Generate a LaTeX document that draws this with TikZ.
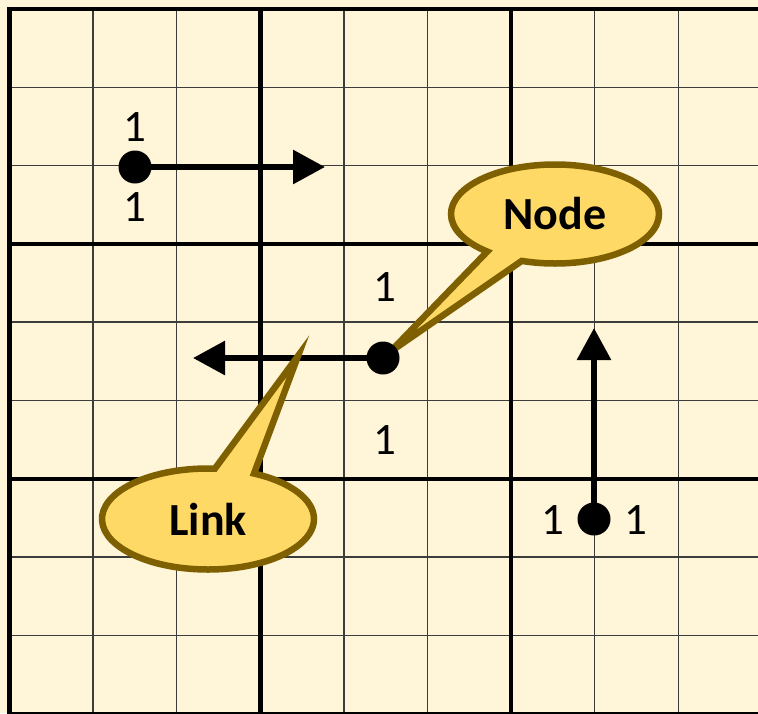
\documentclass[tikz,border=0pt]{standalone}
\usepackage{fontspec}
\setmainfont{Carlito}
\usetikzlibrary{arrows.meta,shapes.callouts}

\definecolor{paper}{RGB}{255,245,216}
\definecolor{calloutfill}{RGB}{255,217,102}
\definecolor{calloutedge}{RGB}{127,96,0}
\definecolor{minorgrid}{RGB}{60,60,60}

\pgfdeclarelayer{front}
\pgfsetlayers{main,front}

\tikzset{
  minorline/.style={line width=1.5pt, draw=minorgrid},
  majorline/.style={line width=4.4pt, draw=black},
  dotnode/.style={circle, fill=black, inner sep=0pt, minimum size=33pt},
  linkarrow/.style={line width=6pt, -{Triangle[length=32pt,width=33pt]}},
  numlabel/.style={font=\fontsize{45}{45}\selectfont, inner sep=0pt},
  bubble/.style={ellipse callout, fill=calloutfill, draw=calloutedge,
    line width=6.5pt, inner sep=0pt, callout pointer arc=22,
    font=\fontsize{46}{46}\selectfont\bfseries}
}

\begin{document}
\begin{tikzpicture}[x=1pt, y=-1pt]
  % paper and clipping frame
  \useasboundingbox (0,0) rectangle (758,713);
  \clip (0,0) rectangle (758,713);
  \fill[paper] (0,0) rectangle (758,713);

  % grid: thin lines every cell, heavy lines every third cell
  \foreach \k in {1,2,4,5,7,8} {
    \draw[minorline] ({9.5+83.6*\k},9) -- ({9.5+83.6*\k},713);
    \draw[minorline] (9.5,{9+78.3*\k}) -- (758,{9+78.3*\k});
  }
  \foreach \k in {0,3,6,9} {
    \draw[majorline] ({9.5+83.6*\k},6.8) -- ({9.5+83.6*\k},720);
    \draw[majorline] (7.3,{9+78.3*\k}) -- (770,{9+78.3*\k});
  }

  % nodes sit above everything else
  \begin{pgfonlayer}{front}
    \node[dotnode] (dotA) at (135,167) {};
    \node[dotnode] (dotB) at (383,358) {};
    \node[dotnode] (dotC) at (594,519) {};
  \end{pgfonlayer}

  % links
  \coordinate (endA) at (325,167);
  \coordinate (endB) at (193,358);
  \coordinate (endC) at (594,328);
  \draw[linkarrow] (dotA.center) -- (endA);
  \draw[linkarrow] (dotB.center) -- (endB);
  \draw[linkarrow] (dotC.center) -- (endC);

  % port numbers
  \node[numlabel] (a1) at (135,127) {1};
  \node[numlabel] (a2) at (135,207) {1};
  \node[numlabel] (b1) at (385,287) {1};
  \node[numlabel] (b2) at (385,440) {1};
  \node[numlabel] (c1) at (553,520) {1};
  \node[numlabel] (c2) at (636,520) {1};

  % callouts
  \coordinate (tipNode) at (390,352);
  \coordinate (tipLink) at (298,356);
  \node[bubble, minimum width=208pt, minimum height=99pt,
        callout absolute pointer=(tipNode)] (nodeTag) at (555,214) {Node};
  \node[bubble, minimum width=212pt, minimum height=101pt,
        callout absolute pointer=(tipLink)] (linkTag) at (208,519) {Link};
\end{tikzpicture}
\end{document}
